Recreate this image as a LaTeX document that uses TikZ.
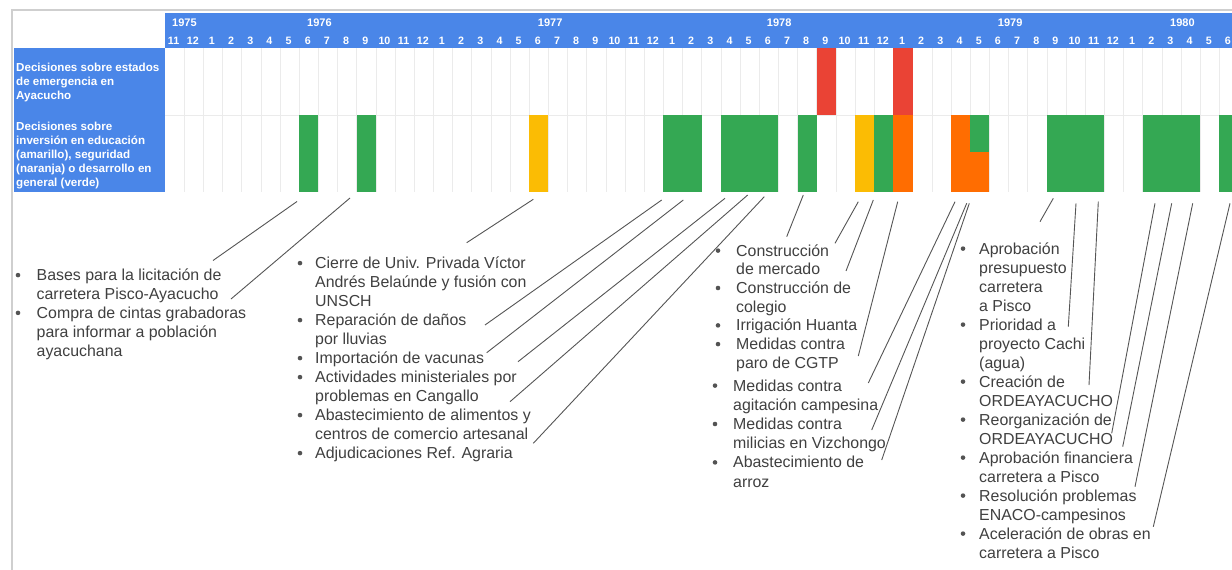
\documentclass[tikz,border=0pt]{standalone}
\usepackage{fontspec}
\setmainfont{Liberation Sans}
\definecolor{hblue}{HTML}{4A86E8}
\definecolor{ggreen}{HTML}{34A853}
\definecolor{gred}{HTML}{EA4335}
\definecolor{gyellow}{HTML}{FBBC04}
\definecolor{gorange}{HTML}{FF6D01}
\definecolor{txt}{HTML}{404040}
\definecolor{gridc}{HTML}{EBEBEB}
\definecolor{framec}{HTML}{CFCFCF}
\definecolor{connc}{HTML}{555555}
\def\xo{165}
\def\cw{19.17}
\begin{document}
\begin{tikzpicture}[x=1pt,y=-1pt,
  yr/.style={font=\fontsize{11}{13}\selectfont\bfseries, text=white, inner sep=0pt, anchor=base west},
  mon/.style={font=\fontsize{10.7}{12}\selectfont\bfseries, text=white, inner sep=0pt, anchor=base},
  lab/.style={font=\fontsize{11.6}{14}\selectfont\bfseries, text=white, inner sep=0pt, anchor=base west},
  itm/.style={font=\fontsize{15.9}{19}\selectfont, text=txt, inner sep=0pt, anchor=base west},
  bul/.style={circle, fill=txt!90, inner sep=0pt, minimum size=4.6pt},
  link/.style={draw=connc, line width=0.9pt}]
\useasboundingbox (0,0) rectangle (1232,570);
\fill[white] (0,0) rectangle (1232,570);
\begin{scope}
\clip (0,0) rectangle (1232,570);
% frame
\draw[framec, line width=1.5pt] (12,570) -- (12,10) -- (1232,10);
% header and label column
\fill[hblue] (\xo,12.5) rectangle (1232,48);
\fill[hblue] (14,48) rectangle (164.5,192);
% grid
\foreach \k in {1,...,55} \draw[gridc, line width=0.6pt] ({\xo+\k*\cw},48) -- ({\xo+\k*\cw},192);
\draw[gridc, line width=0.6pt] (\xo,115) -- (1232,115);
% bars
\foreach \a/\b/\ya/\yb/\c in {
  7/8/115/192/ggreen, 10/11/115/192/ggreen, 19/20/115/192/gyellow,
  26/28/115/192/ggreen, 29/32/115/192/ggreen, 33/34/115/192/ggreen,
  36/37/115/192/gyellow, 37/38/115/192/ggreen, 38/39/115/192/gorange,
  41/42/115/192/gorange, 42/43/115/151.7/ggreen, 42/43/151.7/192/gorange,
  46/49/115/192/ggreen, 51/54/115/192/ggreen, 55/56/115/192/ggreen,
  34/35/48/115/gred, 38/39/48/115/gred}
  \fill[\c] ({\xo+\a*\cw},\ya) rectangle ({\xo+\b*\cw},\yb);
% years
\node[yr] (y1975) at (172,26.7) {1975};
\node[yr] (y1976) at (307,26.7) {1976};
\node[yr] (y1977) at (537.7,26.7) {1977};
\node[yr] (y1978) at (766.7,26.7) {1978};
\node[yr] (y1979) at (997.7,26.7) {1979};
\node[yr] (y1980) at (1170,26.7) {1980};
% months
\foreach \k in {0,...,55} {
  \pgfmathtruncatemacro\m{mod(\k+10,12)+1}
  \node[mon] (m\k) at ({\xo+(\k+0.5)*\cw-1},44.3) {\m};
}
\end{scope}
% row labels
\node[lab] (r1a) at (16,71.5) {Decisiones sobre estados};
\node[lab] (r1b) at (16,85.5) {de emergencia en};
\node[lab] (r1c) at (16,99.5) {Ayacucho};
\node[lab] (r2a) at (16,130) {Decisiones sobre};
\node[lab] (r2b) at (16,144) {inversión en educación};
\node[lab] (r2c) at (16,158) {(amarillo), seguridad};
\node[lab] (r2d) at (16,172) {(naranja) o desarrollo en};
\node[lab] (r2e) at (16,186) {general (verde)};
% list 1
\foreach [count=\i from 0] \b/\t in {1/Bases para la licitación de, 0/carretera Pisco-Ayacucho,
  1/Compra de cintas grabadoras, 0/para informar a población, 0/ayacuchana} {
  \node[itm] (ta\i) at (36.5,{280.5+18.9*\i}) {\t};
  \ifnum\b=1 \node[bul] (ba\i) at (18,{280.5+18.9*\i-5.4}) {}; \fi
}
% list 2
\foreach [count=\i from 0] \b/\t in {1/Cierre de Univ. Privada Víctor, 0/Andrés Belaúnde y fusión con,
  0/UNSCH, 1/Reparación de daños, 0/por lluvias, 1/Importación de vacunas,
  1/Actividades ministeriales por, 0/problemas en Cangallo, 1/Abastecimiento de alimentos y,
  0/centros de comercio artesanal, 1/Adjudicaciones Ref. Agraria} {
  \node[itm] (tb\i) at (315,{268.5+19*\i}) {\t};
  \ifnum\b=1 \node[bul] (bb\i) at (300,{268.5+19*\i-5.4}) {}; \fi
}
% list 3
\foreach [count=\i from 0] \b/\t in {1/Construcción, 0/de mercado, 1/Construcción de, 0/colegio,
  1/Irrigación Huanta, 1/Medidas contra, 0/paro de CGTP} {
  \node[itm] (tc\i) at (736,{256+18.7*\i}) {\t};
  \ifnum\b=1 \node[bul] (bc\i) at (718,{256+18.7*\i-5.4}) {}; \fi
}
\foreach [count=\i from 0] \b/\t in {1/Medidas contra, 0/agitación campesina, 1/Medidas contra,
  0/milicias en Vizchongo, 1/Abastecimiento de, 0/arroz} {
  \node[itm] (td\i) at (733,{391+19.2*\i}) {\t};
  \ifnum\b=1 \node[bul] (bd\i) at (715,{391+19.2*\i-5.4}) {}; \fi
}
% list 4
\foreach [count=\i from 0] \b/\t in {1/Aprobación, 0/presupuesto, 0/carretera, 0/a Pisco,
  1/Prioridad a, 0/proyecto Cachi, 0/(agua), 1/Creación de, 0/ORDEAYACUCHO,
  1/Reorganización de, 0/ORDEAYACUCHO, 1/Aprobación financiera, 0/carretera a Pisco,
  1/Resolución problemas, 0/ENACO-campesinos, 1/Aceleración de obras en, 0/carretera a Pisco} {
  \node[itm] (te\i) at (979,{254+19*\i}) {\t};
  \ifnum\b=1 \node[bul] (be\i) at (963,{254+19*\i-5.4}) {}; \fi
}
% connectors
\foreach \n/\sx/\sy/\ex/\ey in {
  1/297/201.5/213/260.5, 2/350/198/231/299, 3/533.3/199.3/466.7/242.7,
  4/661.7/200/485/325, 5/683.3/200/486.7/352.7, 6/725/198.3/518/361.7,
  7/747.7/195/510/401.7, 8/764.3/196.7/533.3/443.3, 9/803.3/195/786.7/236.7,
  10/858.3/201.7/835/243.3, 11/873.3/200/846/271, 12/897.7/201.7/858.3/356,
  13/955/201.7/868.3/383, 14/966.7/203.3/871.7/430, 15/969.3/203.3/881.7/460,
  16/1053.3/198.3/1040/221.7, 17/1076/203.3/1068.3/326.7, 18/1098.3/201.7/1089/385,
  19/1155/203.3/1111.7/433.3, 20/1171.7/203.3/1122.7/446.7, 21/1192.7/203.3/1135/486.7,
  22/1230/203.3/1153.3/526.7} {
  \coordinate (s\n) at (\sx,\sy);
  \coordinate (e\n) at (\ex,\ey);
  \draw[link] (s\n) -- (e\n);
}
\end{tikzpicture}
\end{document}
